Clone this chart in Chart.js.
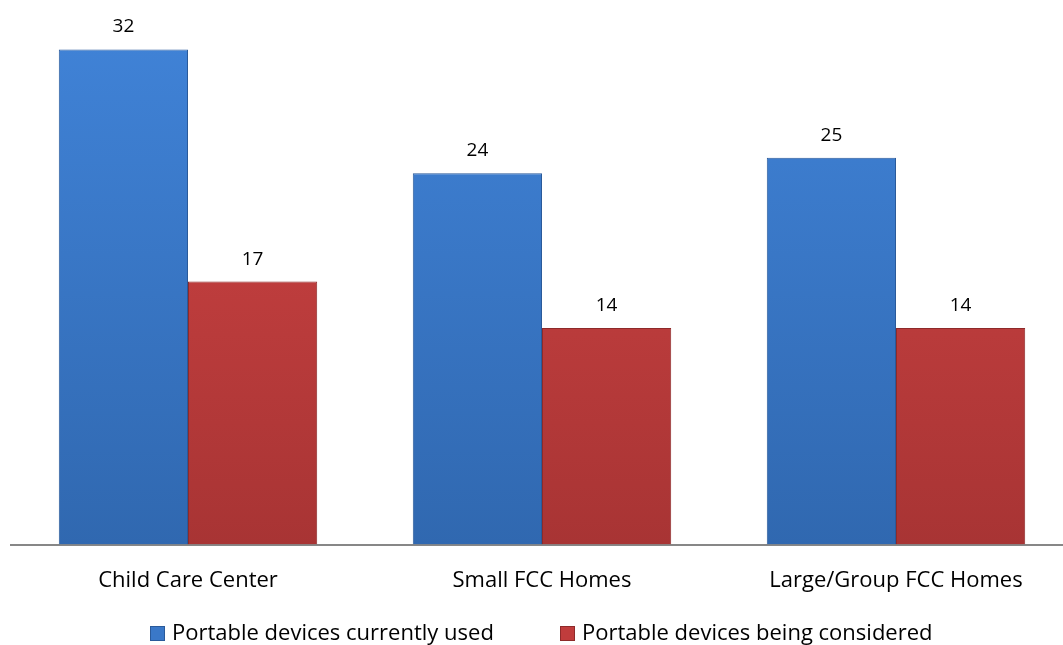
<!DOCTYPE html>
<html>
<head>
<meta charset="utf-8">
<script src="https://cdn.jsdelivr.net/npm/chart.js@4/dist/chart.umd.min.js"></script>
<style>
  html, body { margin: 0; padding: 0; background: #fff; overflow: hidden; }
  #wrap { width: 1080px; height: 645px; }
</style>
</head>
<body>
<div id="wrap"><canvas id="myChart" width="1080" height="645"></canvas></div>
<script>
const categories = ["Child Care Center", "Small FCC Homes", "Large/Group FCC Homes"];
const usedValues = [32, 24, 25];
const consideredValues = [17, 14, 14];
const seriesNames = ["Portable devices currently used", "Portable devices being considered"];

const font = "'Open Sans', 'Liberation Sans', sans-serif";

// vertical gradient over the plot area, lighter top / darker bottom
function barFill(top, bottom) {
    return function(ctx) {
        const area = ctx.chart.chartArea;
        if (!area) return top;
        const g = ctx.chart.ctx.createLinearGradient(0, area.top, 0, area.bottom);
        g.addColorStop(0, top);
        g.addColorStop(1, bottom);
        return g;
    };
}

// value labels over each bar
const valueLabels = {
    id: 'valueLabels',
    afterDatasetsDraw(chart) {
        const c = chart.ctx;
        c.save();
        c.font = "19px " + font;
        c.fillStyle = "#000";
        c.textAlign = "center";
        c.textBaseline = "alphabetic";
        chart.data.datasets.forEach(function(ds, i) {
            chart.getDatasetMeta(i).data.forEach(function(bar, j) {
                c.fillText(ds.data[j], bar.x, bar.y - 17);
            });
        });
        c.restore();
    }
};

// legend drawn under the axis labels
const bottomLegend = {
    id: 'bottomLegend',
    afterDraw(chart) {
        const c = chart.ctx;
        const starts = [150, 560];
        const y = 634;
        c.save();
        c.font = "22px " + font;
        c.textBaseline = "middle";
        c.textAlign = "left";
        chart.data.datasets.forEach(function(ds, i) {
            const x = starts[i];
            c.fillStyle = ds.legendColor;
            c.fillRect(x, y - 8, 15, 15);
            c.strokeStyle = ds.borderColor;
            c.lineWidth = 1;
            c.strokeRect(x + 0.5, y - 7.5, 14, 14);
            c.fillStyle = "#000";
            c.fillText(ds.label, x + 22, y);
        });
        c.restore();
    }
};

new Chart("myChart", {
    type: "bar",
    data: {
        labels: categories,
        datasets: [{
            label: seriesNames[0],
            data: usedValues,
            backgroundColor: barFill("#4184d9", "#3068b0"),
            legendColor: "#3a78c8",
            borderColor: "#2a5a9a",
            borderWidth: 1,
            categoryPercentage: 0.73,
            barPercentage: 1
        }, {
            label: seriesNames[1],
            data: consideredValues,
            backgroundColor: barFill("#d44646", "#a83434"),
            legendColor: "#c03c3c",
            borderColor: "#8e2a2a",
            borderWidth: 1,
            categoryPercentage: 0.73,
            barPercentage: 1
        }]
    },
    options: {
        responsive: false,
        animation: false,
        layout: { padding: { left: 11, right: 7, top: 3, bottom: 36 } },
        plugins: {
            legend: { display: false },
            tooltip: { enabled: false }
        },
        scales: {
            x: {
                grid: { display: false },
                border: { display: true, color: "#878787", width: 2 },
                ticks: { color: "#000", padding: 15, font: { family: font, size: 22 } }
            },
            y: {
                display: false,
                min: 0,
                max: 35
            }
        }
    },
    plugins: [valueLabels, bottomLegend]
});
</script>
</body>
</html>
